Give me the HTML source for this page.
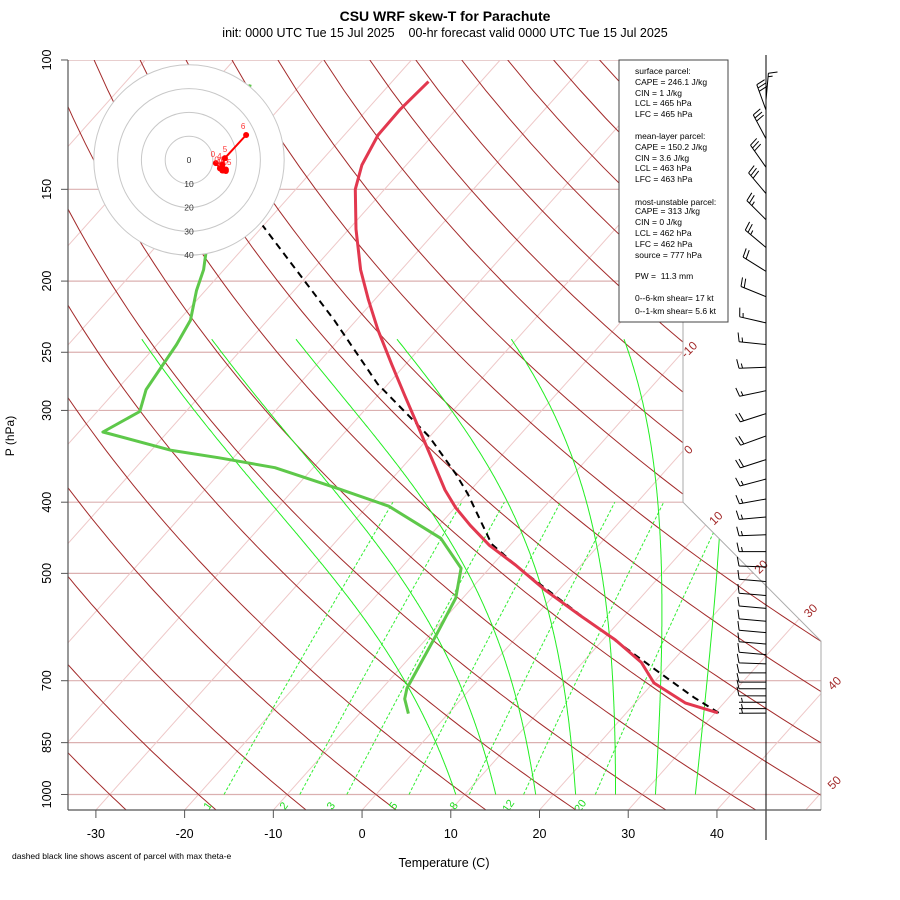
<!DOCTYPE html>
<html><head><meta charset="utf-8"><style>
html,body{margin:0;padding:0;background:#fff;}
svg{display:block;font-family:"Liberation Sans",sans-serif;}
</style></head><body>
<svg id="chart" width="900" height="900" viewBox="0 0 900 900" xmlns="http://www.w3.org/2000/svg">
<defs><clipPath id="frameclip"><polygon id="clipPoly" points=""/></clipPath></defs>
<text x="445" y="21" text-anchor="middle" font-size="14" font-weight="bold">CSU WRF skew-T for Parachute</text>
<text x="445" y="37" text-anchor="middle" font-size="12.5">init: 0000 UTC Tue 15 Jul 2025&#160;&#160;&#160;&#160;00-hr forecast valid 0000 UTC Tue 15 Jul 2025</text>
<g id="bg" clip-path="url(#frameclip)"></g>
<g id="frame"></g>
<g id="series"></g>
<g id="hodo"></g>
<g id="barbs"></g>
<g id="axes"></g>
<g id="infobox">
<rect x="619" y="60" width="109" height="262" fill="#fff" stroke="#444" stroke-width="1"/>
<g font-size="8.5" fill="#000">
<text x="635" y="74">surface parcel:</text>
<text x="635" y="85">CAPE = 246.1 J/kg</text>
<text x="635" y="96">CIN = 1 J/kg</text>
<text x="635" y="106">LCL = 465 hPa</text>
<text x="635" y="117">LFC = 465 hPa</text>
<text x="635" y="139">mean-layer parcel:</text>
<text x="635" y="150">CAPE = 150.2 J/kg</text>
<text x="635" y="161">CIN = 3.6 J/kg</text>
<text x="635" y="171">LCL = 463 hPa</text>
<text x="635" y="182">LFC = 463 hPa</text>
<text x="635" y="205">most-unstable parcel:</text>
<text x="635" y="214">CAPE = 313 J/kg</text>
<text x="635" y="225">CIN = 0 J/kg</text>
<text x="635" y="236">LCL = 462 hPa</text>
<text x="635" y="247">LFC = 462 hPa</text>
<text x="635" y="258">source = 777 hPa</text>
<text x="635" y="279">PW = &#160;11.3 mm</text>
<text x="635" y="301">0--6-km shear= 17 kt</text>
<text x="635" y="314">0--1-km shear= 5.6 kt</text>
</g></g>
<text x="444" y="867" text-anchor="middle" font-size="12.5">Temperature (C)</text>
<text transform="translate(14,436) rotate(-90)" text-anchor="middle" font-size="12">P (hPa)</text>
<text x="12" y="859" font-size="8.5">dashed black line shows ascent of parcel with max theta-e</text>
</svg>
<script>
// ---- data ----
const tempP = [107,117,126.5,139,150,170,193,212,233,260,286,319,350,385,407,430,458,487,527,570,616,661,705,751,774];
const tempT = [-65.9,-66.3,-66.2,-65.0,-63.3,-59.2,-54.6,-50.7,-46.6,-41.5,-37.0,-31.8,-27.4,-22.9,-19.9,-16.5,-12.3,-7.4,-1.5,4.9,11.4,16.6,20.1,25.7,30.3];
const dewP = [108,184,193,206,226,244,281,301,321,340,348,359,383,405,448,492,540,605,717,741,776];
const dewT = [-85.7,-73.6,-72.3,-71.0,-68.7,-67.8,-66.7,-65.2,-67.3,-57.7,-51.6,-44.3,-35.2,-27.6,-18.5,-13.2,-10.8,-9.3,-7.2,-6.4,-4.5];
const parcelP = [774,738,686,568,493,456,390,366,326,276,226,168];
const parcelT = [30.4,26.1,20.1,4.7,-6.5,-12.2,-19.9,-23.3,-30.0,-41.2,-52.5,-70.1];
const barbP = [106.5,117,128,140,152,165,180,194,210,228,244,262,282,303,325,350,372,396,419,443,467,490,513,536,558,581,602,624,645,664,683,703,718,734,749,764,775];
const barbDir = [5,340,332,325,320,315,310,302,292,283,276,268,258,252,250,252,255,260,265,268,270,272,275,275,275,275,275,275,275,272,270,270,270,270,270,270,270];
const barbSpd = [15,30,30,30,30,25,25,20,20,15,15,15,15,20,20,20,15,15,15,15,15,10,10,10,10,10,10,10,10,10,10,10,10,10,5,5,5];
const hodoU = [11.3,13,14,15.5,14.5,15.5,14,15.1,24];
const hodoV = [-1.3,-3.5,-4.4,-4.6,-4.4,-4.0,-2,0.8,10.5];
const hodoLabels = ['0','0.5','1','1.5','2','3','4','5','6'];
const pTicks = [100,150,200,250,300,400,500,700,850,1000];
const tTicks = [-30,-20,-10,0,10,20,30,40];
const isoLabelT = [-10,0,10,20,30,40,50];
const isoLabelP = [247,338,419,488,560,703,960];
const mixW = [1,2,3,5,8,12,20];
const moistT1000 = [9,13.5,18,22.5,27,31.5,36];
const thetaList = []; for(let t=-30;t<=200;t+=10) thetaList.push(t);
const isoList = []; for(let t=-130;t<=50;t+=10) isoList.push(t);

// ---- axis functions ----
const TY0 = -0.934;
function ty(p){return 132.18-44.061*Math.log10(p);}
function Y(p){return 810-16.67*(ty(p)-TY0);}
function X(T,p){return 362+16.43*(0.54*T+0.90692*ty(p)+0.853);}
const NS='http://www.w3.org/2000/svg';
function mk(parent,tag,attrs){const e=document.createElementNS(NS,tag);for(const k in attrs)e.setAttribute(k,attrs[k]);parent.appendChild(e);return e;}
function pts(Ps,Ts){return Ps.map((p,i)=>X(Ts[i],p).toFixed(1)+','+Y(p).toFixed(1)).join(' ');}

const bg=document.getElementById('bg'), frame=document.getElementById('frame'), series=document.getElementById('series'),
 hodo=document.getElementById('hodo'), barbs=document.getElementById('barbs'), axes=document.getElementById('axes');

const yA=810-16.67*(9.2-TY0), yB=810-16.67*(17.53-TY0);
const poly=[[68,810],[821,810],[821,yA],[683,yB],[683,60],[68,60]];
document.getElementById('clipPoly').setAttribute('points',poly.map(q=>q.join(',')).join(' '));

pTicks.forEach(p=>{
  const l=mk(bg,'line',{x1:68,x2:821,y1:Y(p),y2:Y(p),stroke:'#dbb0b0','stroke-width':1.2});
  
  
});
isoList.forEach(t=>{
  const l=mk(bg,'line',{x1:X(t,1050),y1:Y(1050),x2:X(t,100),y2:Y(100),stroke:'#eec8c8','stroke-width':1});
  
  
});
thetaList.forEach(th=>{
  const Ps=[],Ts=[];
  for(let p=1050;p>=100;p-=10){Ps.push(p);Ts.push((th+273.15)*Math.pow(p/1000,0.2857)-273.15);}
  const l=mk(bg,'polyline',{points:pts(Ps,Ts),fill:'none',stroke:'#a32a2a','stroke-width':1});
  
  
});
function tdFromW(w,p){const e=w*p/(622+w);const a=Math.log(e/6.112);return 243.5*a/(17.67-a);}
mixW.forEach(w=>{
  const Ps=[],Ts=[];
  for(let p=1000;p>=400;p-=20){Ps.push(p);Ts.push(tdFromW(w,p));}
  const l=mk(bg,'polyline',{points:pts(Ps,Ts),fill:'none',stroke:'#33ee33','stroke-width':1,'stroke-dasharray':'3,2'});
  
  
  const lx=X(tdFromW(w,1030),1030)-8, ly=Y(1030)+4;
  const t=mk(bg,'text',{x:lx,y:ly,fill:'#22dd22','font-size':11,'text-anchor':'middle',transform:`rotate(-55 ${lx} ${ly})`});
  t.textContent=String(w);
  
  
});
function es(T){return 6.112*Math.exp(17.67*T/(T+243.5));}
moistT1000.forEach(t0=>{
  let T=t0+273.15;const Ps=[1000],Ts=[t0];
  for(let p=1000;p>240;p-=2){
    const Tc=T-273.15, rs=0.622*es(Tc)/(p-es(Tc));
    const num=(287*T+2.5e6*rs)/p, den=1005+2.5e6*2.5e6*rs*0.622/(287*T*T);
    T-= num/den*2; Ps.push(p-2);Ts.push(T-273.15);
  }
  const l=mk(bg,'polyline',{points:pts(Ps,Ts),fill:'none',stroke:'#22ee22','stroke-width':1});
  
  
});
const fb=mk(frame,'polyline',{points:`683,60 683,${yB} 821,${yA} 821,810`,fill:'none',stroke:'#aaa','stroke-width':1});


isoLabelT.forEach((t,i)=>{
  const p=isoLabelP[i], lx=X(t,p)+6, ly=Y(p)+4;
  const e=mk(frame,'text',{x:lx,y:ly,fill:'#a32a2a','font-size':12,'text-anchor':'middle',transform:`rotate(-45 ${lx} ${ly})`});
  e.textContent=String(t);
  
  
});

const par=mk(series,'polyline',{points:pts(parcelP,parcelT),fill:'none',stroke:'#000','stroke-width':2,'stroke-dasharray':'7,5'});


const tl=mk(series,'polyline',{points:pts(tempP,tempT),fill:'none',stroke:'#e2384f','stroke-width':3,'stroke-linejoin':'round'});


const dl=mk(series,'polyline',{points:pts(dewP,dewT),fill:'none',stroke:'#5ec84a','stroke-width':3,'stroke-linejoin':'round'});



const hcx=189,hcy=160,hs=2.38;
const outer=mk(hodo,'circle',{cx:hcx,cy:hcy,r:40*hs,fill:'#fff',stroke:'#c8c8c8','stroke-width':1});


[10,20,30].forEach(k=>{
  const c=mk(hodo,'circle',{cx:hcx,cy:hcy,r:k*hs,fill:'none',stroke:'#c8c8c8','stroke-width':1});
  
  
});
[0,10,20,30,40].forEach(k=>{
  const t=mk(hodo,'text',{x:hcx,y:hcy+k*hs+3,'font-size':8.5,fill:'#333','text-anchor':'middle'});
  t.textContent=String(k);
  
  
});
const hl=mk(hodo,'polyline',{points:hodoU.map((u,i)=>(hcx+u*hs)+','+(hcy-hodoV[i]*hs)).join(' '),fill:'none',stroke:'#f00','stroke-width':2});


hodoU.forEach((u,i)=>{
  const c=mk(hodo,'circle',{cx:hcx+u*hs,cy:hcy-hodoV[i]*hs,r:3,fill:'#f00'});
  
  
  const t=mk(hodo,'text',{x:hcx+u*hs-3+(i%2)*3,y:hcy-hodoV[i]*hs-6,'font-size':8,fill:'#f33','text-anchor':'middle'});
  t.textContent=hodoLabels[i];
  
  
});

const staff=mk(barbs,'line',{x1:766,x2:766,y1:55,y2:840,stroke:'#000','stroke-width':1});


barbP.forEach((p,i)=>{
  const a=barbDir[i]*Math.PI/180, dx=Math.sin(a), dy=-Math.cos(a), fx=-dy, fy=dx;
  const x0=766,y0=Y(p)+(i===0?20:0),L=27;
  let d=`M${x0},${y0} L${(x0+dx*L).toFixed(1)},${(y0+dy*L).toFixed(1)}`;
  let rem=Math.round(barbSpd[i]/5)*5,pos=L;
  while(rem>=10){const bx=x0+dx*pos,by=y0+dy*pos;d+=` M${bx.toFixed(1)},${by.toFixed(1)} l${(fx*9+dx*2).toFixed(1)},${(fy*9+dy*2).toFixed(1)}`;pos-=3.5;rem-=10;}
  if(rem>=5){if(pos===L)pos-=3.5;const bx=x0+dx*pos,by=y0+dy*pos;d+=` M${bx.toFixed(1)},${by.toFixed(1)} l${(fx*4.5+dx*1).toFixed(1)},${(fy*4.5+dy*1).toFixed(1)}`;}
  const b=mk(barbs,'path',{d:d,fill:'none',stroke:'#000','stroke-width':1});
  
  
});

const la=mk(axes,'line',{x1:68,x2:68,y1:60,y2:810,stroke:'#555','stroke-width':1.2});


const ba=mk(axes,'line',{x1:68,x2:821,y1:810,y2:810,stroke:'#555','stroke-width':1.2});


pTicks.forEach(p=>{
  const y=Y(p);
  const t=mk(axes,'line',{x1:61,x2:68,y1:y,y2:y,stroke:'#555','stroke-width':1});
  
  
  const l=mk(axes,'text',{x:0,y:0,'font-size':12.5,'text-anchor':'middle',transform:`translate(51,${y}) rotate(-90)`});
  l.textContent=String(p);
  
  
});
tTicks.forEach(t=>{
  const x=X(t,1050);
  const k=mk(axes,'line',{x1:x,x2:x,y1:810,y2:818,stroke:'#555','stroke-width':1});
  
  
  const l=mk(axes,'text',{x:x,y:838,'font-size':12.5,'text-anchor':'middle'});
  l.textContent=String(t);
  
  
});
</script>
</body></html>
